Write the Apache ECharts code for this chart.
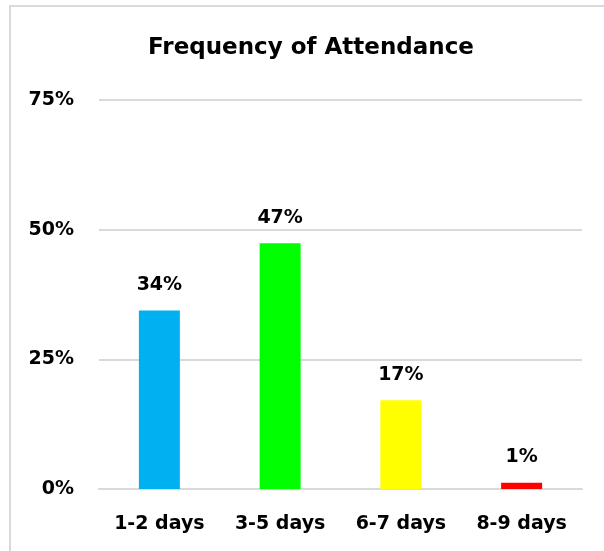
<!DOCTYPE html>
<html lang="en">
<head>
    <meta charset="UTF-8">
    <title>Frequency of Attendance</title>
    <script src="https://cdn.jsdelivr.net/npm/echarts@6.0.0/dist/echarts.min.js"></script>
    <style>
        body { margin: 0; background: #fff; }
        #frame { position: absolute; left: 9px; top: 5px; width: 595px; height: 546px;
                 border-left: 2px solid #d9d9d9; border-top: 2px solid #d9d9d9; }
        #chart { position: absolute; left: 0; top: 0; width: 604px; height: 551px; }
    </style>
</head>
<body>
    <div id="frame"></div>
    <div id="chart"></div>

    <script>
        var categorias = ['1-2 days', '3-5 days', '6-7 days', '8-9 days'];
        var valores = [34.4, 47.4, 17.1, 1.2];
        var cores = ['#00b0f0', '#00ff00', '#ffff00', '#ff0000'];
        var ticksY = [0, 25, 50, 75];

        var fonte = '"DejaVu Sans", sans-serif';
        var chart = echarts.init(document.getElementById('chart'));

        chart.setOption({
            animation: false,
            title: {
                text: 'Frequency of Attendance',
                left: 306,
                top: 32,
                textAlign: 'center',
                textStyle: { fontFamily: fonte, fontSize: 23, fontWeight: 'bold', color: '#000' }
            },
            grid: { left: 99, right: 22, top: 100, bottom: 62, containLabel: false },
            xAxis: {
                type: 'category',
                data: categorias,
                axisLine: { lineStyle: { color: '#d9d9d9', width: 2 } },
                axisTick: { show: false },
                axisLabel: { fontFamily: fonte, fontSize: 19, fontWeight: 'bold', color: '#000', margin: 26 }
            },
            yAxis: {
                type: 'value',
                min: 0,
                max: 75,
                interval: 25,
                axisLine: { show: false },
                axisTick: { show: false },
                splitLine: { lineStyle: { color: '#d9d9d9', width: 2 } },
                axisLabel: {
                    fontFamily: fonte, fontSize: 19, fontWeight: 'bold', color: '#000', margin: 25,
                    formatter: function (v) { return ticksY.indexOf(v) >= 0 ? v + '%' : ''; }
                }
            },
            series: [{
                type: 'bar',
                barWidth: 41,
                data: valores.map(function (v, i) {
                    return { value: v, itemStyle: { color: cores[i] } };
                }),
                label: {
                    show: true,
                    position: 'top',
                    distance: 16,
                    formatter: function (p) { return Math.round(p.value) + '%'; },
                    fontFamily: fonte, fontSize: 19, fontWeight: 'bold', color: '#000'
                }
            }]
        });
    </script>
</body>
</html>
